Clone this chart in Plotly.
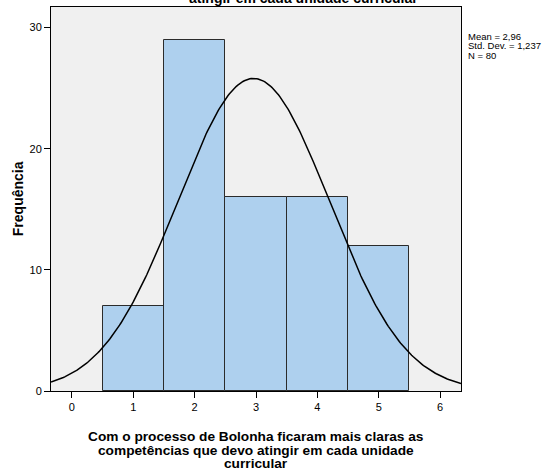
import numpy as np
import plotly.graph_objects as go

# respostas (escala 1-5) e contagens
categorias = [1, 2, 3, 4, 5]
frequencias = [7, 29, 16, 16, 12]

# estatísticas da curva normal (SPSS)
media = 2.96
desvio = 1.237
n = 80

titulo_x = ["Com o processo de Bolonha ficaram mais claras as",
            "competências que devo atingir em cada unidade",
            "curricular"]
estatisticas = ["Mean = 2,96", "Std. Dev. = 1,237", "N = 80"]

x_curva = np.linspace(-0.34, 6.34, 300)
y_curva = n * 1.0 * np.exp(-0.5 * ((x_curva - media) / desvio) ** 2) / (desvio * np.sqrt(2 * np.pi))

fig = go.Figure()

fig.add_trace(go.Bar(
    x=categorias,
    y=frequencias,
    width=1,
    marker=dict(color="#aed0ee", line=dict(color="#2b2b2b", width=1)),
    showlegend=False,
))

fig.add_trace(go.Scatter(
    x=x_curva,
    y=y_curva,
    mode="lines",
    line=dict(color="black", width=1.5),
    showlegend=False,
    hoverinfo="skip",
))

fig.update_layout(
    width=551,
    height=468,
    margin=dict(l=51, r=90, t=7, b=77),
    paper_bgcolor="white",
    plot_bgcolor="#f0f0f0",
    font=dict(family="Liberation Sans, Arial", size=11, color="black"),
    bargap=0,
)

fig.update_xaxes(
    range=[-0.34, 6.34],
    tickvals=[0, 1, 2, 3, 4, 5, 6],
    ticks="outside",
    ticklen=6,
    tickcolor="black",
    showline=True,
    linecolor="black",
    linewidth=1,
    mirror=True,
    showgrid=False,
    zeroline=False,
    tickfont=dict(size=11),
)

fig.update_yaxes(
    range=[0, 31.7],
    tickvals=[0, 10, 20, 30],
    ticks="outside",
    ticklen=6,
    tickcolor="black",
    showline=True,
    linecolor="black",
    linewidth=1,
    mirror=True,
    showgrid=False,
    zeroline=False,
    tickfont=dict(size=11),
)

altura = 384  # px da área do gráfico


def py(p):
    # pixel (a partir do topo) -> coordenada paper
    return (391 - p) / altura


# título do eixo x (3 linhas, espaçamento apertado)
for linha, p in zip(titulo_x, [436, 450, 463]):
    fig.add_annotation(
        text=f"<b>{linha}</b>",
        xref="paper", yref="paper",
        x=0.5, y=py(p),
        xanchor="center", yanchor="middle",
        showarrow=False,
        font=dict(size=13.7),
    )

# título do eixo y
fig.add_annotation(
    text="<b>Frequência</b>",
    xref="paper", yref="paper",
    x=-0.08, y=0.5,
    xanchor="center", yanchor="middle",
    textangle=-90,
    showarrow=False,
    font=dict(size=14),
)

# título cortado no topo
fig.add_annotation(
    text="<b>atingir em cada unidade curricular</b>",
    xref="paper", yref="paper",
    x=0.615, y=1.0,
    xanchor="center", yanchor="bottom",
    yshift=-1,
    showarrow=False,
    font=dict(size=14),
)

# estatísticas
for linha, p in zip(estatisticas, [36, 45.5, 55]):
    fig.add_annotation(
        text=linha,
        xref="paper", yref="paper",
        x=1.012, y=py(p),
        xanchor="left", yanchor="middle",
        showarrow=False,
        align="left",
        font=dict(size=9.5),
    )

fig.write_html("out.html", config={"displayModeBar": False},
               post_script="document.body.style.margin='0';")
